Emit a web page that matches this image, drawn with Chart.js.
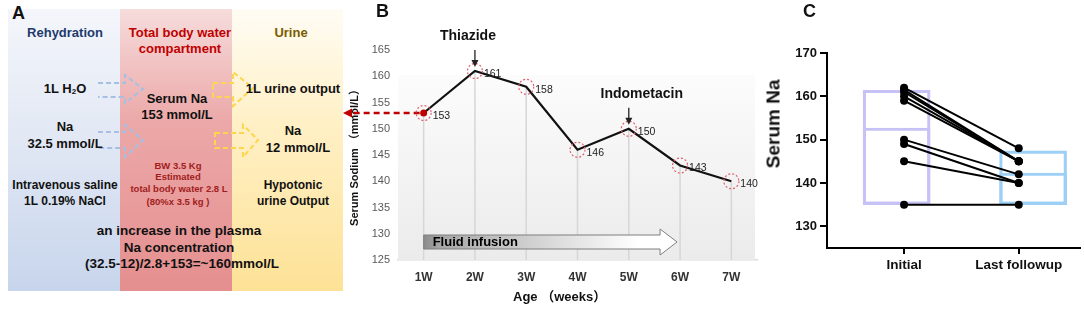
<!DOCTYPE html>
<html>
<head>
<meta charset="utf-8">
<script src="https://cdn.jsdelivr.net/npm/chart.js@4.4.1/dist/chart.umd.min.js"></script>
<style>
  body { margin:0; width:1084px; height:309px; background:#fff; position:relative; overflow:hidden;
         font-family:"Liberation Sans", Arial, "Noto Sans CJK SC", sans-serif; color:#111; }
  .panel-lbl { position:absolute; font-weight:bold; font-size:18px; line-height:18px; }
  .col { position:absolute; top:9px; height:282px; }
  .t { position:absolute; transform:translate(-50%,-50%); white-space:nowrap; font-weight:bold; font-size:13px; line-height:15px; }
  .small { font-size:9.5px; color:#a11d1d; }
  .big { font-size:13.5px; }
  sub { font-size:8px; vertical-align:-1px; }
  canvas { position:absolute; top:0; }
  #cB { left:340px; }
  #cC { left:760px; }
</style>
</head>
<body>

<!-- 🔹 Panel A : schematic -->
<div class="col" style="left:8px;width:112px;background:linear-gradient(#f4f6fb 0%,#e2e8f4 45%,#c7d5ec 100%)"></div>
<div class="col" style="left:120px;width:112px;background:linear-gradient(#f6dcdc 0%,#eca8a8 40%,#e58f8f 100%)"></div>
<div class="col" style="left:232px;width:111px;background:linear-gradient(#fffcf4 0%,#fff0c6 40%,#fde296 100%)"></div>

<svg style="position:absolute;left:0;top:0" width="344" height="309">
  <g fill="none" stroke="#a7bfe3" stroke-width="2" stroke-dasharray="5,3">
    <path d="M98,83 H125 V75 L143,89 L125,103 V97 H98"/>
    <path d="M98,132 H125 V125 L143,140 L125,157 V148 H98"/>
  </g>
  <g fill="none" stroke="#fdd54f" stroke-width="2" stroke-dasharray="5,3">
    <path d="M213,83 H233 V72 L253,88 L233,106 V97 H213 Z"/>
    <path d="M215,133 H243 V125 L258,140 L243,157 V148 H215 Z"/>
  </g>
</svg>

<div class="panel-lbl" style="left:12px;top:4px">A</div>
<div class="t" style="left:65px;top:32px;color:#1f3b6e">Rehydration</div>
<div class="t" style="left:180px;top:32px;color:#c00000">Total body water</div>
<div class="t" style="left:180px;top:48px;color:#c00000">compartment</div>
<div class="t" style="left:291px;top:32px;color:#7a5c00">Urine</div>

<div class="t" style="left:65px;top:90px">1L H<sub>2</sub>O</div>
<div class="t" style="left:177px;top:98px">Serum Na</div>
<div class="t" style="left:177px;top:114px">153 mmol/L</div>
<div class="t" style="left:293px;top:88px">1L urine output</div>

<div class="t" style="left:65px;top:126px">Na</div>
<div class="t" style="left:65px;top:143px">32.5 mmol/L</div>
<div class="t" style="left:293px;top:130px">Na</div>
<div class="t" style="left:298px;top:147px">12 mmol/L</div>

<div class="t small" style="left:178px;top:165px">BW 3.5 Kg</div>
<div class="t small" style="left:178px;top:176px">Estimated</div>
<div class="t small" style="left:179px;top:188px">total body water 2.8 L</div>
<div class="t small" style="left:178px;top:201px">(80%x 3.5 kg )</div>

<div class="t" style="left:65px;top:185px;font-size:12px">Intravenous saline</div>
<div class="t" style="left:65px;top:201px;font-size:12px">1L 0.19% NaCl</div>
<div class="t" style="left:293px;top:185px;font-size:12px">Hypotonic</div>
<div class="t" style="left:293px;top:201px;font-size:12px">urine Output</div>

<div class="t big" style="left:179px;top:230px">an increase in the plasma</div>
<div class="t big" style="left:179px;top:247px">Na concentration</div>
<div class="t big" style="left:182px;top:263px">(32.5-12)/2.8+153=~160mmol/L</div>

<!-- 🔹 Panel B & C canvases -->
<canvas id="cB" width="420" height="309"></canvas>
<canvas id="cC" width="324" height="309"></canvas>

<div class="panel-lbl" style="left:376px;top:2px">B</div>
<div class="panel-lbl" style="left:803px;top:2px">C</div>
<div class="t" style="left:513px;top:296px;transform:translate(0,-50%);font-size:13px">Age （weeks）</div>
<div class="t" style="left:773px;top:124px;transform:translate(-50%,-50%) rotate(-90deg);font-size:19px">Serum Na</div>

<script>
// 🔹 Panel B data
const weeks = ["1W", "2W", "3W", "4W", "5W", "6W", "7W"];
const serumSodium = [153, 161, 158, 146, 150, 143, 140];
const drugWeeks = ["2W", "5W"];
const drugNames = ["Thiazide", "Indometacin"];
const infusionWeeks = ["1W", "6W"];
const infusionLabel = "Fluid infusion";

// 🔹 Panel C data
const groups = ["Initial", "Last followup"];
const initialNa = [162, 161.5, 161, 160, 159, 150, 149, 145, 135];
const lastNa = [148, 145, 145, 145, 145, 142, 140, 140, 135];
const boxLow = [135, 135];
const boxHigh = [161.4, 147.4];
const boxMid = [152.7, 142.3];

// 🔹 Defaults
const FONT = "'Liberation Sans', Arial, 'Noto Sans CJK SC', sans-serif";
Chart.defaults.font.family = FONT;
Chart.defaults.animation = false;
Chart.defaults.plugins.legend.display = false;
Chart.defaults.plugins.tooltip.enabled = false;

// 🔹 Panel B decorations (background, drop lines, circles, notes)
const drugTextShift = [-7, 13];
const bDecor = {
  id: "bDecor",
  beforeDatasetsDraw(chart) {
    const { ctx, chartArea: a } = chart;
    const pts = chart.getDatasetMeta(0).data;
    ctx.save();
    const top = a.top + 25;
    const g = ctx.createLinearGradient(0, top, 0, a.bottom);
    g.addColorStop(0, "#fcfcfc");
    g.addColorStop(1, "#ebebeb");
    ctx.fillStyle = g;
    ctx.fillRect(a.left, top, a.right - 2 - a.left, a.bottom - top);

    ctx.strokeStyle = "#d6d6d6";
    ctx.lineWidth = 1.5;
    pts.forEach(p => {
      ctx.beginPath();
      ctx.moveTo(p.x, p.y);
      ctx.lineTo(p.x, a.bottom);
      ctx.stroke();
    });

    // fluid infusion arrow
    const x0 = pts[weeks.indexOf(infusionWeeks[0])].x;
    const x1 = pts[weeks.indexOf(infusionWeeks[1])].x - 3;
    const yc = a.bottom - 18;
    const hl = 17;
    const grad = ctx.createLinearGradient(x0, 0, x1, 0);
    grad.addColorStop(0, "#8a8a8a");
    grad.addColorStop(0.06, "#a6a6a6");
    grad.addColorStop(0.5, "#d9d9d9");
    grad.addColorStop(0.85, "#ffffff");
    ctx.beginPath();
    ctx.moveTo(x0, yc - 7);
    ctx.lineTo(x1 - hl, yc - 7);
    ctx.lineTo(x1 - hl, yc - 13);
    ctx.lineTo(x1, yc);
    ctx.lineTo(x1 - hl, yc + 13);
    ctx.lineTo(x1 - hl, yc + 7);
    ctx.lineTo(x0, yc + 7);
    ctx.closePath();
    ctx.fillStyle = grad;
    ctx.fill();
    ctx.strokeStyle = "#7f7f7f";
    ctx.lineWidth = 1;
    ctx.stroke();
    ctx.fillStyle = "#000";
    ctx.font = "bold 13px " + FONT;
    ctx.textBaseline = "middle";
    ctx.fillText(infusionLabel, x0 + 9, yc);
    ctx.restore();
  },
  afterDatasetsDraw(chart) {
    const { ctx } = chart;
    const pts = chart.getDatasetMeta(0).data;
    ctx.save();
    // red dashed arrow towards panel A
    const p0 = pts[0];
    ctx.strokeStyle = "#c00000";
    ctx.lineWidth = 2.5;
    ctx.setLineDash([6, 4]);
    ctx.beginPath();
    ctx.moveTo(p0.x - 4, p0.y);
    ctx.lineTo(10, p0.y);
    ctx.stroke();
    ctx.setLineDash([]);
    ctx.fillStyle = "#c00000";
    ctx.beginPath();
    ctx.moveTo(3, p0.y);
    ctx.lineTo(12, p0.y - 4.5);
    ctx.lineTo(12, p0.y + 4.5);
    ctx.closePath();
    ctx.fill();
    ctx.beginPath();
    ctx.arc(p0.x, p0.y, 3.5, 0, Math.PI * 2);
    ctx.fill();

    // dashed circles + value labels
    ctx.strokeStyle = "#e0606e";
    ctx.lineWidth = 1.2;
    ctx.setLineDash([2, 2]);
    pts.forEach(p => {
      ctx.beginPath();
      ctx.arc(p.x, p.y, 7.5, 0, Math.PI * 2);
      ctx.stroke();
    });
    ctx.setLineDash([]);
    ctx.fillStyle = "#222";
    ctx.font = "10.5px " + FONT;
    ctx.textBaseline = "middle";
    ctx.textAlign = "left";
    pts.forEach((p, i) => ctx.fillText(serumSodium[i], p.x + 9, p.y + 3));

    // drug notes
    drugWeeks.forEach((w, i) => {
      const p = pts[weeks.indexOf(w)];
      ctx.strokeStyle = "#222";
      ctx.fillStyle = "#222";
      ctx.lineWidth = 1.3;
      ctx.beginPath();
      ctx.moveTo(p.x, p.y - 21);
      ctx.lineTo(p.x, p.y - 10);
      ctx.stroke();
      ctx.beginPath();
      ctx.moveTo(p.x - 3.5, p.y - 11);
      ctx.lineTo(p.x + 3.5, p.y - 11);
      ctx.lineTo(p.x, p.y - 4);
      ctx.closePath();
      ctx.fill();
      ctx.fillStyle = "#111";
      ctx.font = "bold 14px " + FONT;
      ctx.textAlign = "center";
      ctx.fillText(drugNames[i], p.x + drugTextShift[i], p.y - 35);
    });
    ctx.restore();
  }
};

new Chart(document.getElementById("cB"), {
  type: "line",
  data: {
    labels: weeks,
    datasets: [{
      data: serumSodium,
      borderColor: "#111",
      borderWidth: 2.2,
      pointRadius: 0,
      tension: 0
    }]
  },
  options: {
    responsive: false,
    layout: { padding: { top: 50, left: 6, right: 3, bottom: 0 } },
    scales: {
      x: {
        offset: true,
        grid: { display: false, drawTicks: false },
        border: { display: true, color: "#d9d9d9", width: 1.5 },
        ticks: { color: "#333", font: { size: 12, weight: "bold" }, padding: 10 },
        afterFit: s => { s.height = 49; }
      },
      y: {
        min: 125, max: 165,
        grid: { display: false, drawTicks: false },
        border: { display: false },
        ticks: { stepSize: 5, color: "#595959", font: { size: 11 }, padding: 8 },
        title: { display: true, text: "Serum Sodium （mmol/L）", color: "#111", font: { size: 11, weight: "bold" }, padding: 2 },
        afterFit: s => { s.width = 52; }
      }
    }
  },
  plugins: [bDecor]
});

// 🔹 Panel C : paired values with boxes
const boxShift = [-0.065, 0.125];
const boxColors = ["#c7c2f5", "#9dd0f7"];

const pairSets = initialNa.map((v, i) => ({
  type: "line",
  data: [{ x: 0, y: v }, { x: 1, y: lastNa[i] }],
  borderColor: "#000",
  borderWidth: 2,
  pointRadius: 4,
  pointBackgroundColor: "#000",
  pointBorderWidth: 0,
  order: 1
}));

const boxSet = (tops) => ({
  type: "bar",
  data: groups.map((g, i) => ({ x: i + boxShift[i], y: [boxLow[i], tops[i]] })),
  backgroundColor: "rgba(255,255,255,0)",
  borderColor: boxColors,
  borderWidth: 2.5,
  borderSkipped: false,
  barThickness: 67,
  grouped: false,
  order: 2
});

new Chart(document.getElementById("cC"), {
  type: "bar",
  data: { datasets: [boxSet(boxHigh), boxSet(boxMid), ...pairSets] },
  options: {
    responsive: false,
    layout: { padding: { top: 53, left: 0, right: 1, bottom: 0 } },
    scales: {
      x: {
        type: "linear",
        min: -0.672, max: 1.534,
        offset: false,
        grid: { display: true, offset: false, drawOnChartArea: false, drawTicks: true, tickLength: 6, color: "#000", lineWidth: 2 },
        border: { display: true, color: "#000", width: 2 },
        afterBuildTicks: s => { s.ticks = groups.map((g, i) => ({ value: i })); },
        ticks: { autoSkip: false, maxRotation: 0, color: "#111", font: { size: 13.5, weight: "bold" }, padding: 3,
                 callback: v => groups[v] },
        afterFit: s => { s.height = 61; }
      },
      y: {
        min: 125, max: 170,
        grid: { display: true, drawOnChartArea: false, drawTicks: true, tickLength: 7, color: "#000", lineWidth: 2 },
        border: { display: true, color: "#000", width: 2 },
        afterBuildTicks: s => { s.ticks = s.ticks.filter(t => t.value % 10 === 0); },
        ticks: { stepSize: 10, color: "#111", font: { size: 13, weight: "bold" }, padding: 3 },
        afterFit: s => { s.width = 67; }
      }
    }
  }
});
</script>
</body>
</html>
